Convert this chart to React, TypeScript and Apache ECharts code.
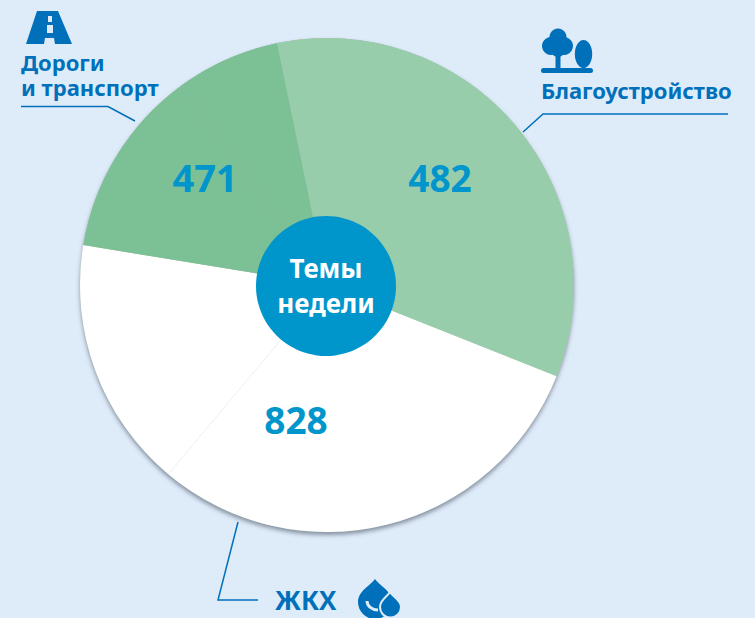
import React, { useEffect, useRef } from "react";
import * as echarts from "echarts";

const sliceNames = ["Благоустройство", "ЖКХ", "ЖКХ (часть 2)", "Дороги и транспорт", "Дороги и транспорт (часть 2)"];
const sliceSweeps = [123.4, 108.3, 59.3, 44.3, 24.7];
const sliceColors = ["#98CDAB", "#FFFFFF", "#FFFFFF", "#7CC096", "#7CC096"];
const valueLabels = ["482", "828", "471"];
const centerLines = ["Темы", "недели"];
const BG = "#DEEBF9";
const BLUE = "#0070BA";
const CYAN = "#0095CB";
const FONT = "'Noto Sans', sans-serif";

echarts.graphic.registerShape(
  "dropBig",
  echarts.graphic.extendPath("M375 579 C380 586 392 591 392 602 A17 17 0 0 1 358 602 C358 591 370 586 375 579 Z", {})
);
echarts.graphic.registerShape(
  "dropSmall",
  echarts.graphic.extendPath("M390 592 C393 597 401 600 401 607 A10.5 10.5 0 0 1 380 607 C380 600 387 597 390 592 Z", {})
);
echarts.graphic.registerShape(
  "dropCurve",
  echarts.graphic.extendPath("M367 601 C367 606 372 610 378 610", {})
);

const txt = (text: string, x: number, y: number, fontSize: number, fill: string, align = "center", lineHeight?: number) => ({
  type: "text",
  x,
  y,
  z: 10,
  style: { text, fill, fontSize, fontWeight: 700, fontFamily: FONT, align, verticalAlign: "middle", lineHeight },
});
const line = (points: number[][]) => ({
  type: "polyline",
  z: 10,
  shape: { points },
  style: { stroke: BLUE, lineWidth: 1.5, fill: "none" },
});
const poly = (points: number[][], fill: string) => ({ type: "polygon", z: 10, shape: { points }, style: { fill } });
const circle = (cx: number, cy: number, r: number) => ({ type: "circle", z: 10, shape: { cx, cy, r }, style: { fill: BLUE } });

export default function App() {
  const ref = useRef<HTMLDivElement>(null);
  useEffect(() => {
    const chart = echarts.init(ref.current!, null, { renderer: "svg" });
    chart.setOption({
      animation: false,
      backgroundColor: BG,
      series: [
        {
          type: "pie",
          silent: true,
          center: [327, 285],
          radius: [0, 247],
          label: { show: false },
          labelLine: { show: false },
          z: 1,
          data: [{ value: 1, name: "base", itemStyle: { color: "#A8BEB0", shadowColor: "rgba(60,70,90,0.55)", shadowBlur: 4, shadowOffsetY: 3 } }],
        },
        {
          type: "pie",
          silent: true,
          center: [327, 285],
          radius: [0, 247],
          startAngle: 101.7,
          label: { show: false },
          labelLine: { show: false },
          z: 2,
          data: sliceNames.map((name, i) => ({ name, value: sliceSweeps[i], itemStyle: { color: sliceColors[i] } })),
        },
      ],
      graphic: [
        { type: "circle", z: 10, shape: { cx: 326, cy: 286, r: 70 }, style: { fill: CYAN } },
        txt(centerLines.join("\n"), 326, 285, 26, "#FFFFFF", "center", 35),
        txt(valueLabels[0], 440, 177, 37, CYAN),
        txt(valueLabels[1], 296, 419, 37, CYAN),
        txt(valueLabels[2], 205, 177, 38, CYAN),
        txt("Дороги\nи транспорт", 21, 74, 22, BLUE, "left", 25),
        txt("Благоустройство", 541, 90, 22, BLUE, "left"),
        txt("ЖКХ", 275, 600, 26, BLUE, "left"),
        line([[21, 106.5], [108, 106.5], [135, 121]]),
        line([[728, 114], [543, 114], [523, 132]]),
        line([[238, 522], [218, 600], [258, 600]]),
        // road icon
        poly([[37, 11], [58, 11], [72, 44], [26, 44]], BLUE),
        poly([[48, 16], [52, 16], [52, 22], [48, 22]], BG),
        poly([[47, 25], [53, 25], [53, 33], [47, 33]], BG),
        poly([[45, 38], [54, 38], [55, 44], [44, 44]], BG),
        // trees icon
        circle(558, 37, 8.5),
        circle(551, 46, 9),
        circle(564, 46, 9),
        circle(558, 50, 7),
        { type: "rect", z: 10, shape: { x: 555.5, y: 52, width: 5, height: 18 }, style: { fill: BLUE } },
        { type: "ellipse", z: 10, shape: { cx: 583.5, cy: 54, rx: 8.7, ry: 14 }, style: { fill: BLUE } },
        { type: "rect", z: 10, shape: { x: 582, y: 64, width: 3, height: 6 }, style: { fill: BLUE } },
        { type: "rect", z: 10, shape: { x: 541, y: 68, width: 52, height: 5, r: 2.5 }, style: { fill: BLUE } },
        // drops icon
        { type: "dropBig", z: 10, x: 0, y: 0, style: { fill: BLUE } },
        { type: "dropSmall", z: 11, x: 0, y: 0, style: { fill: BLUE, stroke: BG, lineWidth: 2 } },
        { type: "dropCurve", z: 11, x: 0, y: 0, style: { fill: "none", stroke: BG, lineWidth: 3 } },
      ],
    });
    return () => chart.dispose();
  }, []);
  return <div ref={ref} style={{ position: "fixed", left: 0, top: 0, width: 755, height: 618 }} />;
}
